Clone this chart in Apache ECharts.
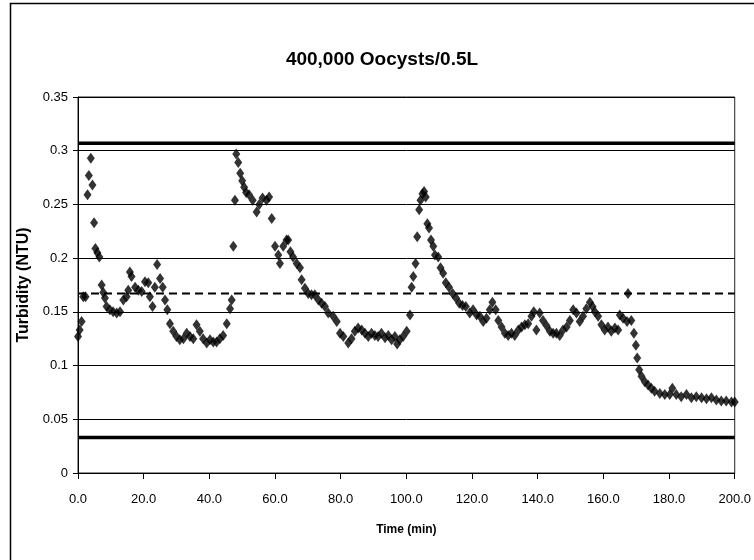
<!DOCTYPE html>
<html>
<head>
<meta charset="utf-8">
<script src="https://cdn.jsdelivr.net/npm/echarts@6/dist/echarts.min.js"></script>
<style>
  html, body { margin: 0; padding: 0; background: #fff; }
  #chart { width: 754px; height: 560px; }
</style>
</head>
<body>
<div id="chart"></div>
<script>
// ---- Data ----
const chartTitle = "400,000 Oocysts/0.5L";
const xAxisTitle = "Time (min)";
const yAxisTitle = "Turbidity (NTU)";

const times = [
  0, 0.5, 1.1, 1.6, 2.3, 2.9, 3.3, 3.9, 4.4, 4.9, 5.3, 5.9, 6.5, 7.2, 7.7, 8.2, 8.7, 9.7, 10.7, 11.8,
  12.8, 13.8, 14.8, 15.3, 15.8, 16.3, 17.4, 18.4, 19.4, 20.4, 21.4, 21.9, 22.7, 23.4, 24.1, 25.0, 25.8, 26.5, 27.2, 28.0,
  29.0, 30.0, 31.0, 32.1, 33.1, 34.1, 35.1, 36.1, 37.1, 38.1, 39.2, 40.2, 41.2, 42.2, 43.2, 44.2, 45.3, 46.3, 46.8, 47.3,
  47.8, 48.2, 48.8, 49.4, 50.0, 50.6, 51.2, 52.1, 53.2, 54.4, 55.2, 56.2, 57.4, 58.2, 59.0, 60.0, 61.0, 61.5, 62.5, 63.5,
  64.0, 64.7, 65.5, 66.6, 67.6, 68.1, 69.1, 70.1, 71.1, 72.1, 73.2, 74.2, 75.2, 76.2, 77.7, 78.8, 79.8, 80.8, 82.3, 83.3,
  84.3, 85.3, 86.4, 87.4, 88.4, 89.4, 90.4, 91.4, 92.4, 93.5, 94.5, 95.5, 96.5, 97.2, 98.0, 99.0, 100.1, 101.1, 101.6, 102.1,
  102.8, 103.3, 103.9, 104.3, 104.9, 105.4, 105.9, 106.4, 106.9, 107.5, 108.2, 108.7, 109.7, 110.4, 111.2, 112.0, 113.0, 114.1, 115.1, 116.1,
  117.1, 118.1, 119.3, 120.3, 121.4, 122.4, 123.4, 124.4, 125.4, 126.2, 127.2, 128.0, 129.0, 130.0, 131.0, 132.0, 133.0, 134.1, 135.1, 136.1,
  137.1, 138.1, 138.8, 139.6, 140.6, 141.6, 142.7, 143.7, 144.7, 145.7, 146.7, 147.7, 148.8, 149.8, 150.8, 151.8, 152.8, 153.8, 154.8, 155.9,
  156.7, 157.4, 158.4, 159.4, 160.4, 161.4, 162.4, 163.5, 164.5, 165.0, 166.0, 167.2, 167.5, 168.5, 169.3, 169.9, 170.3, 170.9, 171.6, 172.6,
  173.6, 174.6, 175.6, 177.2, 178.7, 180.2, 181.0, 182.2, 183.7, 185.3, 186.8, 188.3, 189.9, 191.4, 192.9, 194.4, 195.9, 197.4, 199.0, 200.0
];

const turbidity = [
  0.127, 0.133, 0.141, 0.164, 0.164, 0.259, 0.277, 0.293, 0.268, 0.233, 0.209, 0.205, 0.201, 0.175, 0.168, 0.163, 0.155, 0.152, 0.150, 0.149,
  0.150, 0.161, 0.164, 0.170, 0.187, 0.183, 0.173, 0.170, 0.169, 0.178, 0.177, 0.164, 0.155, 0.173, 0.194, 0.181, 0.173, 0.161, 0.152, 0.139,
  0.132, 0.127, 0.124, 0.125, 0.130, 0.127, 0.125, 0.138, 0.132, 0.125, 0.121, 0.124, 0.122, 0.122, 0.125, 0.128, 0.139, 0.153, 0.161, 0.211,
  0.254, 0.297, 0.289, 0.279, 0.272, 0.266, 0.261, 0.259, 0.254, 0.243, 0.250, 0.256, 0.254, 0.257, 0.237, 0.211, 0.203, 0.195, 0.211, 0.217,
  0.217, 0.206, 0.201, 0.195, 0.191, 0.180, 0.172, 0.167, 0.166, 0.166, 0.161, 0.158, 0.155, 0.149, 0.146, 0.141, 0.130, 0.127, 0.121, 0.125,
  0.132, 0.135, 0.133, 0.130, 0.127, 0.130, 0.128, 0.127, 0.130, 0.126, 0.128, 0.124, 0.127, 0.120, 0.124, 0.127, 0.132, 0.147, 0.173, 0.183,
  0.195, 0.220, 0.245, 0.254, 0.260, 0.262, 0.257, 0.232, 0.228, 0.217, 0.211, 0.203, 0.201, 0.191, 0.186, 0.177, 0.173, 0.167, 0.163, 0.158,
  0.156, 0.155, 0.149, 0.152, 0.147, 0.146, 0.141, 0.144, 0.152, 0.159, 0.152, 0.142, 0.136, 0.130, 0.128, 0.130, 0.128, 0.133, 0.136, 0.138,
  0.139, 0.146, 0.150, 0.133, 0.149, 0.142, 0.137, 0.132, 0.130, 0.130, 0.128, 0.133, 0.136, 0.142, 0.152, 0.149, 0.141, 0.146, 0.153, 0.159,
  0.155, 0.150, 0.146, 0.138, 0.133, 0.136, 0.132, 0.135, 0.133, 0.147, 0.144, 0.141, 0.167, 0.142, 0.130, 0.119, 0.107, 0.096, 0.090, 0.085,
  0.082, 0.079, 0.076, 0.074, 0.073, 0.073, 0.079, 0.073, 0.071, 0.073, 0.070, 0.071, 0.070, 0.069, 0.070, 0.068, 0.067, 0.067, 0.066, 0.066
];

// Reference lines (upper limit, mean, lower limit)
const upperLimit = 0.307;
const meanLevel = 0.167;
const lowerLimit = 0.033;

// Axis ranges / ticks
const xMin = 0, xMax = 200, xStep = 20;
const yMin = 0, yMax = 0.35, yStep = 0.05;

// ---- Chart ----
const points = times.map((t, i) => [t, turbidity[i]]);
const hLine = v => [[xMin, v], [xMax, v]];

const chart = echarts.init(document.getElementById('chart'), null, { renderer: 'canvas' });
const fontFam = '"Liberation Sans", Arial, sans-serif';

chart.setOption({
  animation: false,
  backgroundColor: '#ffffff',
  graphic: [
    {
      type: 'rect', z: -10, silent: true,
      shape: { x: 10.5, y: 3.5, width: 800, height: 600 },
      style: { fill: '#ffffff', stroke: '#000', lineWidth: 1.5 }
    },
    {
      type: 'text', x: 382, y: 60, z: 10,
      style: {
        text: chartTitle, align: 'center', verticalAlign: 'middle',
        font: 'bold 19px ' + fontFam, fill: '#000'
      }
    }
  ],
  grid: {
    left: 78, right: 19, top: 97, bottom: 87,
    show: true, borderColor: '#222', borderWidth: 1, backgroundColor: 'transparent'
  },
  xAxis: {
    type: 'value', min: xMin, max: xMax, interval: xStep,
    name: xAxisTitle, nameLocation: 'middle', nameGap: 57,
    nameTextStyle: { fontFamily: fontFam, fontWeight: 'bold', fontSize: 12, color: '#000', verticalAlign: 'middle' },
    axisLine: { show: true, onZero: false, lineStyle: { color: '#000', width: 1 } },
    axisTick: { show: true, inside: false, length: 6, lineStyle: { color: '#000' } },
    axisLabel: {
      margin: 20, fontFamily: fontFam, fontSize: 13, color: '#000',
      formatter: v => v.toFixed(1)
    },
    splitLine: { show: false }
  },
  yAxis: {
    type: 'value', min: yMin, max: yMax, interval: yStep,
    name: yAxisTitle, nameLocation: 'middle', nameGap: 43,
    nameTextStyle: { fontFamily: fontFam, fontWeight: 'bold', fontSize: 16, color: '#000', verticalAlign: 'middle' },
    axisLine: { show: true, lineStyle: { color: '#000', width: 1 } },
    axisTick: { show: true, inside: false, length: 5, lineStyle: { color: '#000' } },
    axisLabel: {
      margin: 10, fontFamily: fontFam, fontSize: 13, color: '#000',
      formatter: v => String(parseFloat(v.toFixed(2)))
    },
    splitLine: { show: true, lineStyle: { color: '#000', width: 1 } }
  },
  series: [
    {
      name: 'Upper', type: 'line', data: hLine(upperLimit), symbol: 'none',
      lineStyle: { color: '#000', width: 3.5 }, z: 3, silent: true
    },
    {
      name: 'Lower', type: 'line', data: hLine(lowerLimit), symbol: 'none',
      lineStyle: { color: '#000', width: 3.5 }, z: 3, silent: true
    },
    {
      name: 'Mean', type: 'line', data: hLine(meanLevel), symbol: 'none',
      lineStyle: { color: '#000', width: 2, type: [8, 5] }, z: 3, silent: true
    },
    {
      name: 'Turbidity', type: 'scatter', data: points,
      symbol: 'diamond', symbolSize: [8, 11],
      itemStyle: { color: '#000' }, z: 4
    }
  ]
});
</script>
</body>
</html>
